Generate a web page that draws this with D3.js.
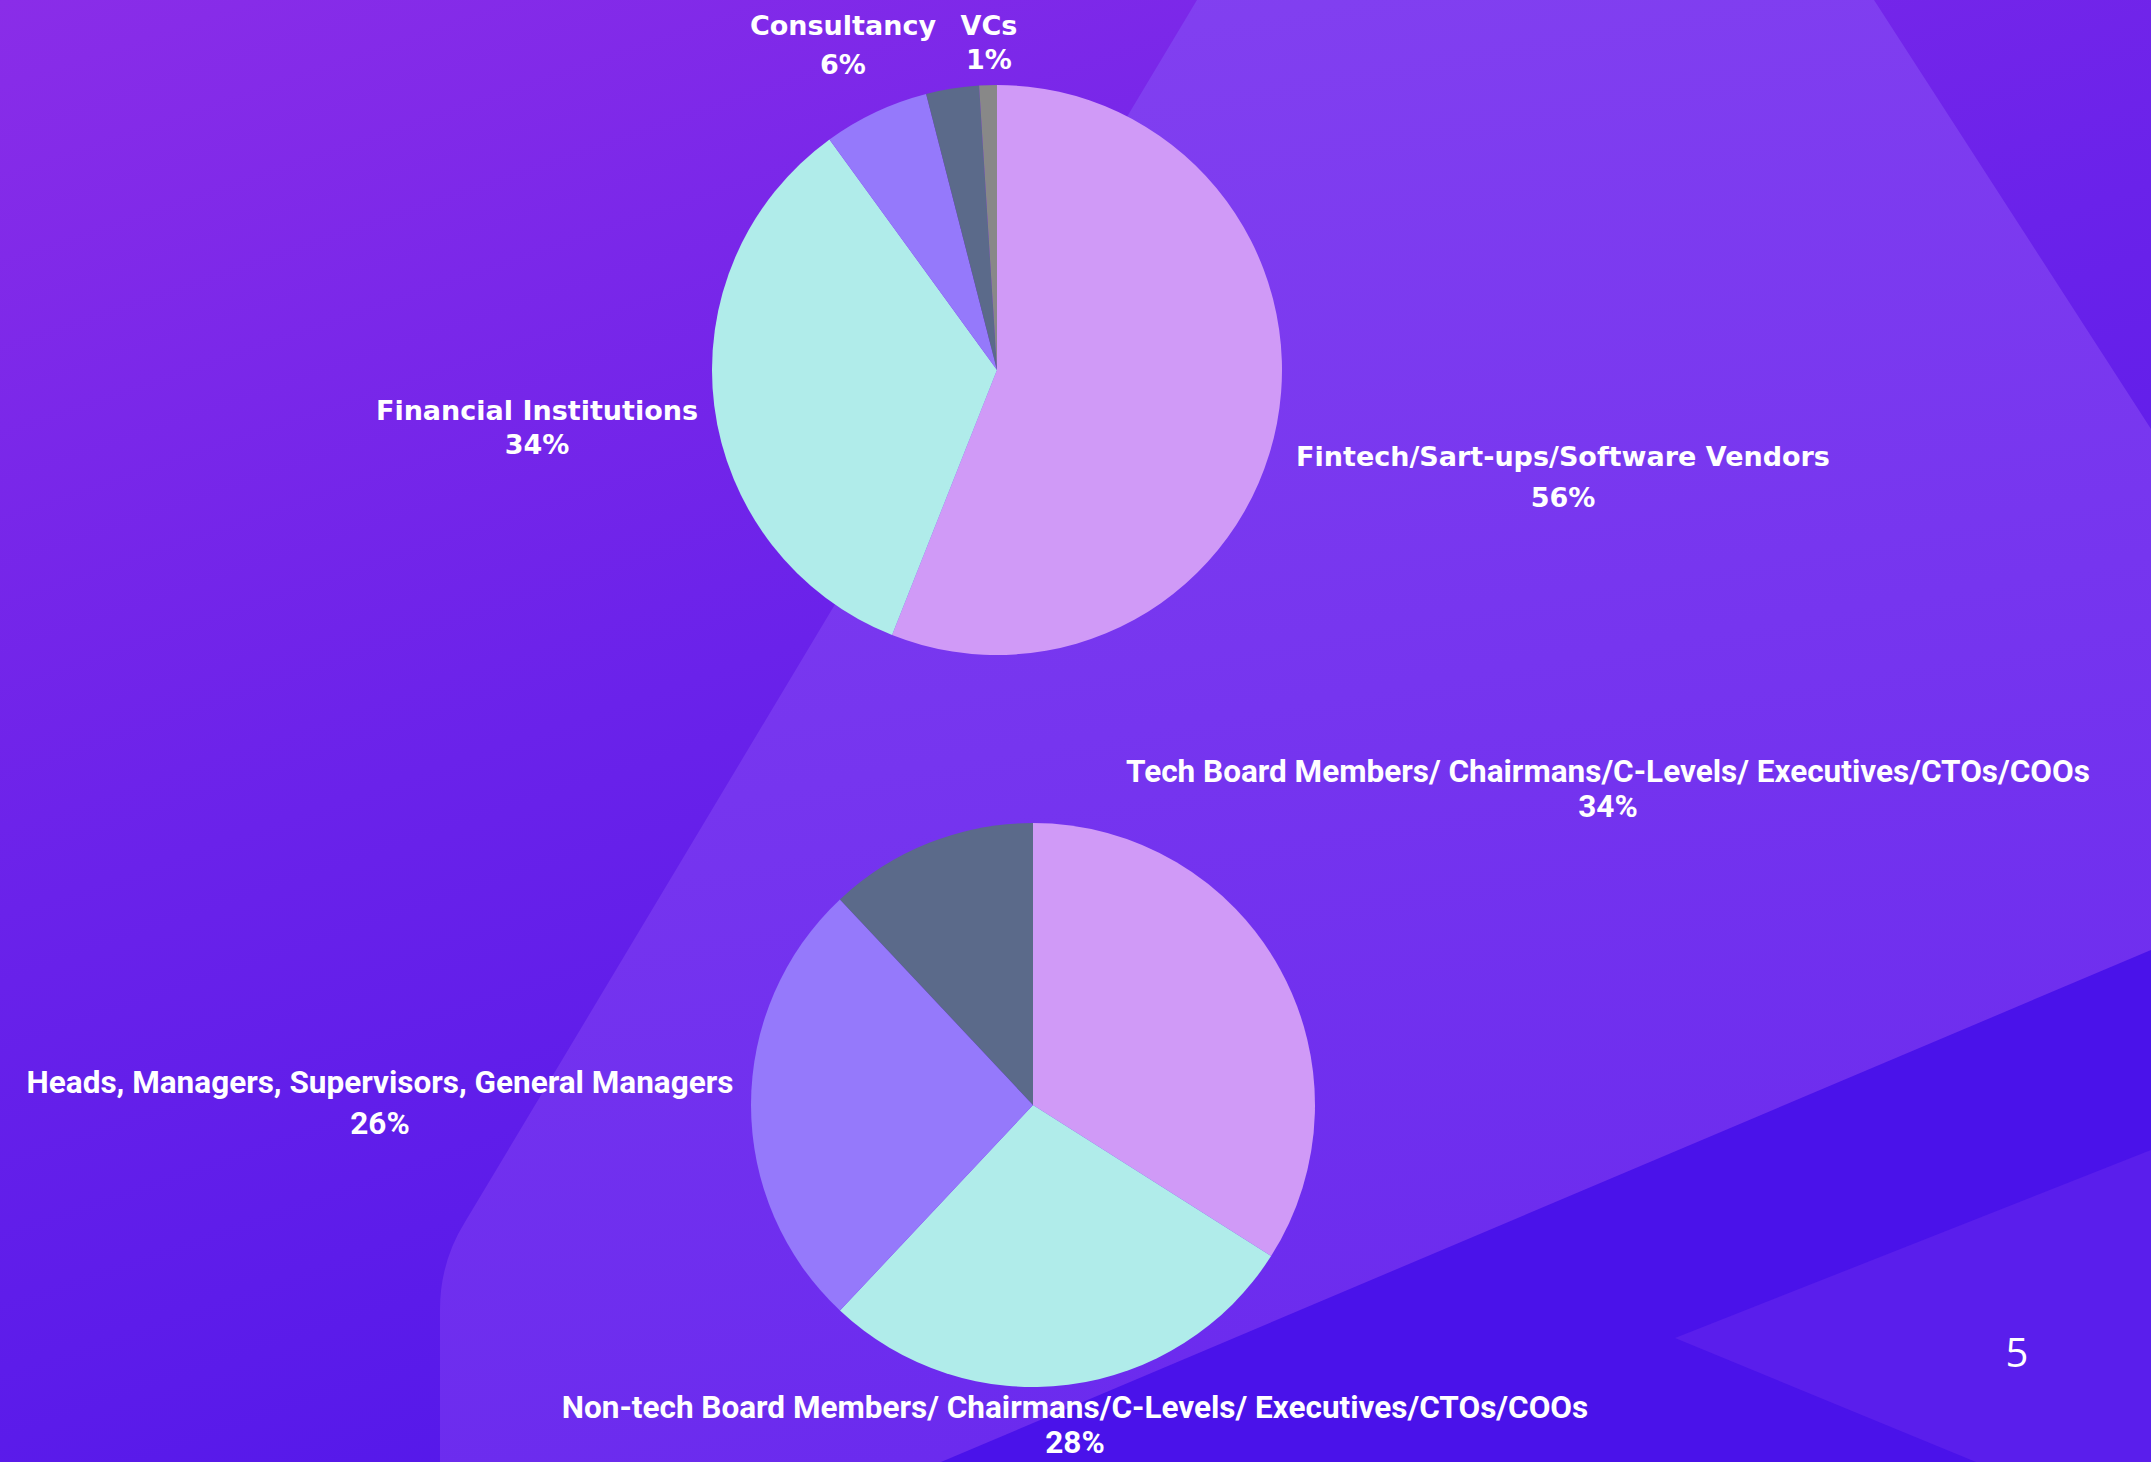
<!DOCTYPE html>
<html>
<head>
<meta charset="utf-8">
<script src="https://cdn.jsdelivr.net/npm/d3@7"></script>
<style>
  body { margin: 0; background: #6a24e8; overflow: hidden; }
  svg { display: block; }
</style>
</head>
<body>
<div id="chart"></div>
<script>
// top pie - type of organisation
const orgLabels = ["Fintech/Sart-ups/Software Vendors", "Financial Institutions", "Consultancy", "", "VCs"];
const orgValues = [56, 34, 6, 3, 1];

// bottom pie - role of respondent
const roleLabels = [
    "Tech Board Members/ Chairmans/C-Levels/ Executives/CTOs/COOs",
    "Non-tech Board Members/ Chairmans/C-Levels/ Executives/CTOs/COOs",
    "Heads, Managers, Supervisors, General Managers",
    ""
];
const roleValues = [34, 28, 26, 12];

const pageNumber = "5";

const width = 2151;
const height = 1462;

const sliceColors = ["#d09af7", "#b0ecea", "#9579fb", "#5b6a8a", "#888888"];

// label anchors relative to the pie centre: [dx, dy, gap to the % line]
const orgLabelPos = [[566, 96, 41], [-460, 50, 34], [-154, -335, 39], null, [-8, -335, 34]];
const roleLabelPos = [[575, -323, 35], [42, 313, 35], [-653, -12, 41], null];

const svg = d3.select("#chart").append("svg")
    .attr("width", width)
    .attr("height", height);

const defs = svg.append("defs");

// background gradients
const bgGrad = defs.append("linearGradient")
    .attr("id", "bg-grad")
    .attr("x1", 0).attr("y1", 0).attr("x2", 0.5).attr("y2", 1);
bgGrad.append("stop").attr("offset", 0).attr("stop-color", "#8a2de8");
bgGrad.append("stop").attr("offset", 0.5).attr("stop-color", "#6a22ea");
bgGrad.append("stop").attr("offset", 1).attr("stop-color", "#5016ea");

const bandGrad = defs.append("linearGradient")
    .attr("id", "band-grad")
    .attr("x1", 0.3).attr("y1", 0).attr("x2", 0.5).attr("y2", 1);
bandGrad.append("stop").attr("offset", 0).attr("stop-color", "#8240f0");
bandGrad.append("stop").attr("offset", 1).attr("stop-color", "#6a2aee");

svg.append("rect")
    .attr("width", width)
    .attr("height", height)
    .attr("fill", "url(#bg-grad)");

// big lighter diagonal band
svg.append("path")
    .attr("d", "M1197,0 L1874,0 L2151,429 L2151,1462 L440,1462 L440,1310 Q440,1262 465,1222 Z")
    .attr("fill", "url(#band-grad)");

// darker strip at bottom right
svg.append("path")
    .attr("d", "M2151,950 L941,1462 L2151,1462 Z")
    .attr("fill", "#4a12ea");

// small lighter wedge in the corner
svg.append("path")
    .attr("d", "M1675,1338 L2151,1150 L2151,1462 L1976,1462 Z")
    .attr("fill", "#5a1eec");

function drawPie(values, labels, colors, center, radius, labelPos, labelFont, labelSize) {
    const pie = d3.pie().sort(null).value(d => d);
    const arc = d3.arc().innerRadius(0).outerRadius(radius);
    const arcs = pie(values);

    const g = svg.append("g")
        .attr("transform", `translate(${center[0]}, ${center[1]})`);

    g.selectAll("path")
        .data(arcs)
        .enter()
        .append("path")
        .attr("d", arc)
        .attr("fill", (d, i) => colors[i]);

    const lbl = g.selectAll(".slice-label")
        .data(arcs.filter((d, i) => labels[i] !== ""))
        .enter()
        .append("g")
        .attr("class", "slice-label")
        .attr("transform", d => `translate(${labelPos[d.index][0]}, ${labelPos[d.index][1]})`)
        .style("font-family", labelFont)
        .style("font-weight", "bold")
        .style("font-size", labelSize + "px")
        .attr("fill", "#ffffff")
        .attr("text-anchor", "middle");

    lbl.append("text")
        .text(d => labels[d.index]);

    lbl.append("text")
        .attr("y", d => labelPos[d.index][2])
        .text(d => d.data + "%");
}

drawPie(orgValues, orgLabels, sliceColors, [997, 370], 285, orgLabelPos, "'DejaVu Sans', sans-serif", 27);
drawPie(roleValues, roleLabels, sliceColors, [1033, 1105], 282, roleLabelPos, "Roboto, sans-serif", 31.5);

svg.append("text")
    .attr("x", 2017)
    .attr("y", 1367)
    .attr("text-anchor", "middle")
    .attr("fill", "#ffffff")
    .style("font-family", "'Open Sans', sans-serif")
    .style("font-size", "40px")
    .text(pageNumber);
</script>
</body>
</html>
